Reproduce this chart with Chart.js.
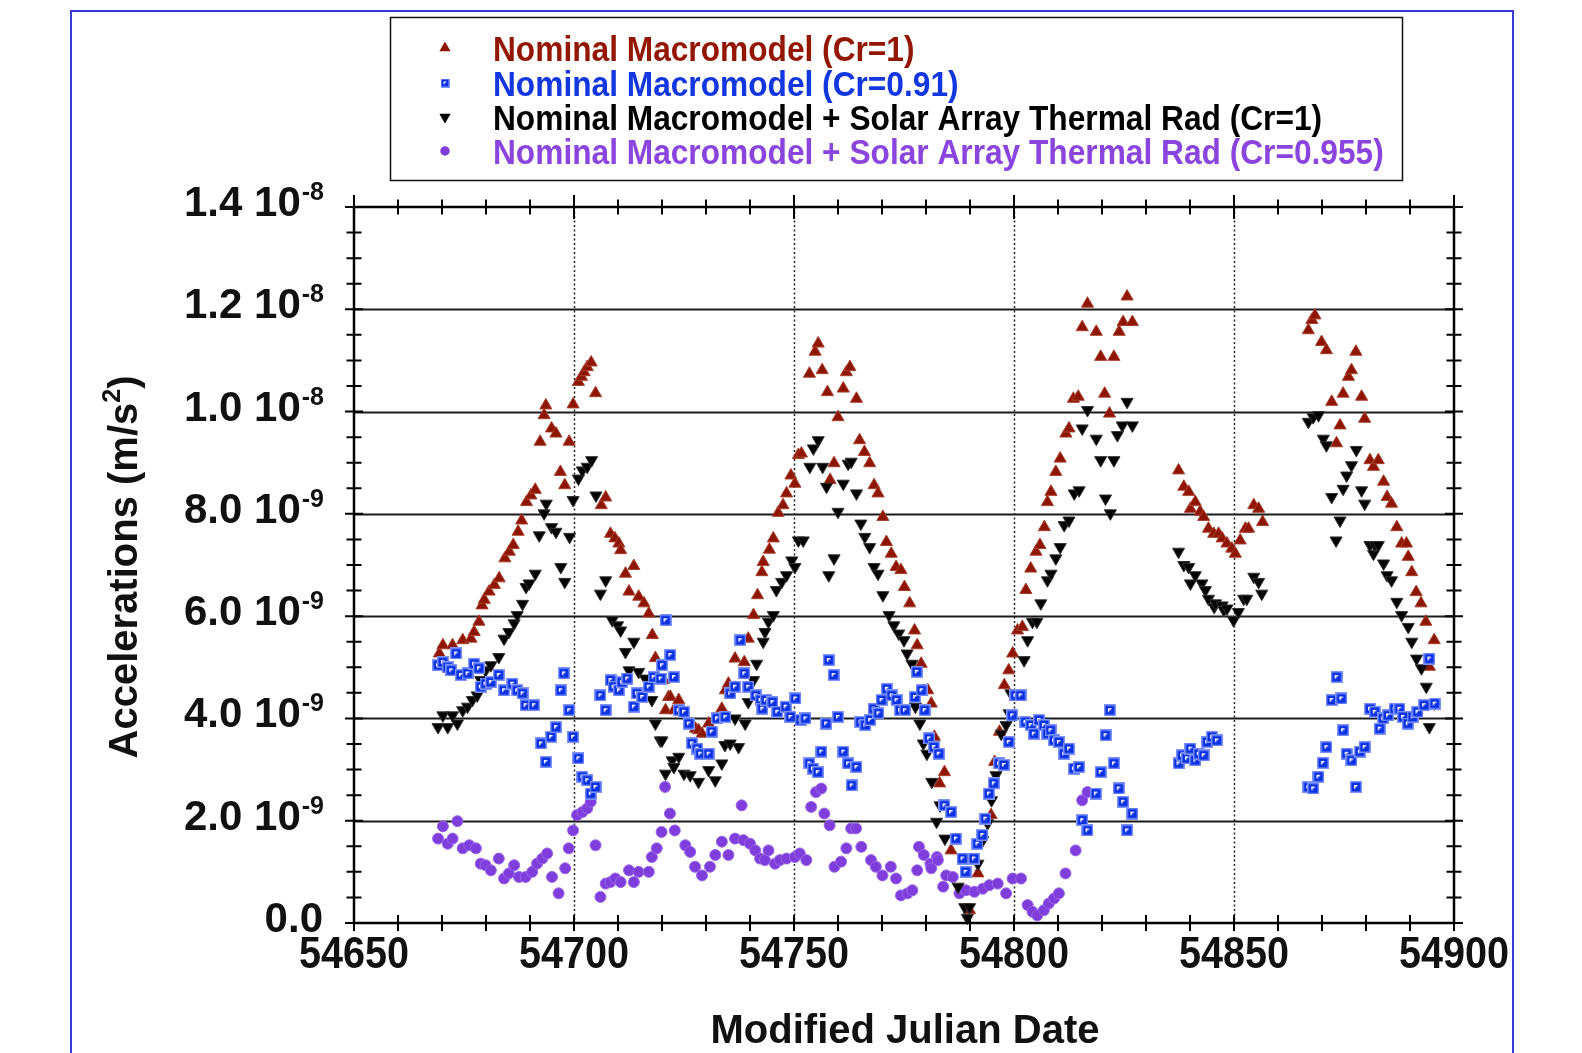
<!DOCTYPE html>
<html>
<head>
<meta charset="utf-8">
<title>Accelerations vs Modified Julian Date</title>
<script src="https://cdn.jsdelivr.net/npm/chart.js@4.4.0/dist/chart.umd.min.js"></script>
<style>
  html, body { margin: 0; padding: 0; background: #fff; }
  canvas { display: block; }
</style>
</head>
<body>
<canvas id="chart" width="1582" height="1053"></canvas>
<script>
// accelerations are in units of 1e-9 m/s^2
const redDays = [54669.4, 54670.2, 54672.4, 54674.7, 54676.6, 54677.3, 54678.4, 54679.1, 54679.6, 54680.7, 54681.9, 54683.0, 54684.3, 54685.3, 54686.2, 54687.3, 54688.1, 54689.2, 54690.2, 54691.2, 54692.3, 54693.2, 54693.6, 54694.9, 54695.9, 54696.9, 54697.9, 54698.9, 54699.8, 54701.0, 54701.7, 54702.3, 54703.0, 54703.9, 54704.9, 54706.2, 54707.2, 54708.3, 54709.3, 54710.2, 54710.6, 54711.7, 54712.5, 54713.6, 54714.7, 54715.9, 54717.0, 54717.8, 54718.5, 54720.4, 54720.8, 54721.5, 54721.9, 54722.7, 54723.8, 54727.6, 54728.3, 54729.1, 54730.6, 54733.6, 54734.4, 54735.1, 54736.6, 54738.7, 54739.6, 54740.8, 54741.7, 54742.7, 54743.0, 54744.4, 54745.3, 54746.4, 54747.5, 54748.3, 54749.3, 54750.2, 54751.0, 54751.7, 54753.5, 54754.8, 54755.5, 54756.4, 54757.6, 54758.2, 54759.1, 54760.0, 54761.2, 54761.9, 54762.7, 54764.2, 54764.9, 54766.0, 54767.2, 54768.2, 54769.1, 54770.2, 54771.0, 54772.1, 54773.2, 54774.3, 54775.1, 54776.3, 54777.4, 54778.0, 54778.9, 54780.4, 54781.2, 54781.9, 54783.1, 54784.2, 54785.7, 54789.9, 54791.8, 54794.8, 54795.6, 54796.7, 54797.8, 54798.8, 54799.7, 54800.8, 54801.9, 54802.7, 54803.8, 54805.0, 54805.9, 54806.9, 54807.6, 54808.4, 54809.5, 54810.5, 54811.8, 54812.5, 54813.5, 54814.6, 54815.5, 54816.7, 54818.7, 54819.7, 54820.6, 54821.7, 54822.7, 54823.9, 54824.8, 54825.7, 54826.9, 54837.4, 54838.6, 54839.7, 54840.1, 54841.2, 54842.3, 54843.1, 54844.2, 54845.4, 54846.5, 54847.3, 54848.4, 54849.5, 54850.3, 54851.4, 54852.6, 54853.3, 54854.5, 54855.6, 54856.5, 54866.9, 54867.7, 54868.4, 54869.9, 54871.0, 54872.2, 54873.3, 54874.1, 54874.8, 54876.0, 54876.7, 54877.7, 54879.0, 54879.7, 54880.9, 54881.7, 54882.8, 54884.0, 54884.8, 54885.8, 54887.0, 54888.1, 54889.2, 54889.6, 54890.4, 54891.4, 54892.5, 54893.6, 54894.4, 54895.5];
const redAcc = [5.27, 5.43, 5.43, 5.53, 5.56, 5.69, 5.89, 6.21, 6.32, 6.48, 6.61, 6.74, 7.13, 7.26, 7.39, 7.65, 7.87, 8.23, 8.36, 8.47, 9.41, 9.93, 10.12, 9.67, 9.57, 8.82, 8.56, 9.41, 10.14, 10.58, 10.68, 10.77, 10.87, 10.96, 10.36, 8.17, 8.32, 7.61, 7.52, 7.42, 7.29, 6.83, 6.48, 6.98, 6.38, 6.25, 6.05, 5.63, 5.18, 4.75, 4.16, 4.42, 4.42, 4.16, 4.36, 3.80, 3.77, 3.70, 3.90, 4.19, 4.55, 4.68, 5.17, 5.10, 5.56, 6.02, 6.41, 6.86, 7.06, 7.30, 7.52, 8.02, 8.17, 8.40, 8.75, 8.59, 9.15, 9.18, 10.74, 11.17, 11.33, 10.81, 10.38, 8.66, 8.99, 9.89, 10.45, 10.77, 10.87, 10.25, 9.44, 9.21, 8.99, 8.56, 8.40, 7.94, 7.45, 7.22, 6.96, 6.90, 6.57, 6.25, 5.72, 5.43, 5.07, 4.55, 4.29, 3.64, 2.73, 2.95, 1.42, 0.25, 0.97, 2.11, 3.15, 3.74, 4.65, 4.94, 5.27, 5.72, 5.79, 6.51, 6.93, 7.26, 7.39, 7.74, 8.23, 8.43, 8.82, 9.08, 9.57, 9.67, 10.25, 10.29, 11.65, 12.11, 11.56, 11.07, 10.35, 9.96, 11.07, 11.56, 11.75, 12.25, 11.75, 8.85, 8.53, 8.43, 8.10, 8.23, 8.04, 7.94, 7.71, 7.61, 7.61, 7.52, 7.42, 7.32, 7.22, 7.48, 7.71, 7.71, 8.17, 8.10, 7.84, 11.59, 11.79, 11.88, 11.36, 11.20, 10.19, 9.38, 9.73, 10.35, 10.68, 10.81, 11.17, 10.29, 9.86, 9.05, 8.92, 9.05, 8.63, 8.33, 8.20, 7.74, 7.42, 7.42, 7.16, 6.86, 6.47, 6.25, 5.89, 5.01, 5.53];

const blueDays = [54669.1, 54670.2, 54671.3, 54672.1, 54673.2, 54674.3, 54675.8, 54677.3, 54678.4, 54678.8, 54679.9, 54681.1, 54682.9, 54684.1, 54686.0, 54687.1, 54688.3, 54689.0, 54690.9, 54692.5, 54693.6, 54694.8, 54695.9, 54697.0, 54697.7, 54698.9, 54699.8, 54701.0, 54701.9, 54703.0, 54703.8, 54704.9, 54706.0, 54707.2, 54708.3, 54709.0, 54710.2, 54710.9, 54712.1, 54713.6, 54714.3, 54715.5, 54717.0, 54718.1, 54719.7, 54720.0, 54720.8, 54721.9, 54722.7, 54723.8, 54725.0, 54726.1, 54726.8, 54728.0, 54728.7, 54730.6, 54731.3, 54732.5, 54734.4, 54735.5, 54736.6, 54737.8, 54738.7, 54739.6, 54741.3, 54742.4, 54742.8, 54743.6, 54745.1, 54746.2, 54748.1, 54749.2, 54750.3, 54751.5, 54752.6, 54753.5, 54754.3, 54755.4, 54756.2, 54757.3, 54757.9, 54759.0, 54760.0, 54761.2, 54762.3, 54763.1, 54764.2, 54765.1, 54766.2, 54767.3, 54768.1, 54769.2, 54769.9, 54771.1, 54772.2, 54773.3, 54774.1, 54775.2, 54777.5, 54777.9, 54779.0, 54779.7, 54780.7, 54781.8, 54782.9, 54784.2, 54785.7, 54786.8, 54788.3, 54789.0, 54790.9, 54791.7, 54792.8, 54793.5, 54794.3, 54795.4, 54796.6, 54797.7, 54798.8, 54799.6, 54800.3, 54801.5, 54802.6, 54803.8, 54804.5, 54805.7, 54806.8, 54807.6, 54808.3, 54809.1, 54810.2, 54811.4, 54812.5, 54813.6, 54814.8, 54815.5, 54816.7, 54818.6, 54819.7, 54820.8, 54821.8, 54822.7, 54823.8, 54824.8, 54825.7, 54826.9, 54837.4, 54838.2, 54839.3, 54840.1, 54841.2, 54842.0, 54843.1, 54843.9, 54845.0, 54846.1, 54866.9, 54868.0, 54869.2, 54870.2, 54871.0, 54872.2, 54873.3, 54874.4, 54874.8, 54875.6, 54876.7, 54877.7, 54878.6, 54879.7, 54880.9, 54882.0, 54883.1, 54883.9, 54885.0, 54886.5, 54887.6, 54888.4, 54889.5, 54890.6, 54891.7, 54893.2, 54894.4, 54895.6];
const blueAcc = [5.04, 5.10, 5.00, 4.94, 5.27, 4.85, 4.88, 5.07, 4.98, 4.62, 4.68, 4.71, 4.85, 4.55, 4.68, 4.55, 4.49, 4.26, 4.26, 3.51, 3.15, 3.64, 3.83, 4.55, 4.88, 4.16, 3.64, 3.22, 2.86, 2.79, 2.53, 2.66, 4.45, 4.16, 4.75, 4.62, 4.55, 4.71, 4.78, 4.23, 4.49, 4.42, 4.62, 4.81, 4.78, 5.04, 5.92, 5.24, 4.81, 4.16, 4.13, 3.90, 3.51, 3.41, 3.31, 3.31, 3.74, 4.00, 4.03, 4.49, 4.62, 5.53, 4.88, 4.62, 4.45, 4.36, 4.19, 4.36, 4.32, 4.13, 4.23, 4.03, 4.39, 3.97, 4.00, 3.12, 3.02, 2.95, 3.35, 3.90, 5.14, 4.85, 4.03, 3.35, 3.12, 2.69, 3.05, 3.93, 3.87, 3.97, 4.19, 4.10, 4.36, 4.58, 4.45, 4.36, 4.16, 4.16, 4.42, 4.91, 4.55, 4.16, 3.61, 3.44, 3.31, 2.30, 2.17, 1.65, 1.26, 1.00, 1.26, 1.55, 1.72, 2.04, 2.53, 2.73, 3.12, 3.09, 3.54, 4.06, 4.45, 4.45, 3.93, 3.87, 3.70, 3.97, 3.87, 3.70, 3.77, 3.57, 3.54, 3.31, 3.41, 3.02, 3.05, 2.01, 1.81, 2.53, 2.95, 3.67, 4.16, 3.12, 2.63, 2.37, 1.81, 2.14, 3.12, 3.28, 3.22, 3.41, 3.18, 3.31, 3.28, 3.54, 3.64, 3.57, 2.66, 2.63, 2.86, 3.13, 3.44, 4.36, 4.81, 4.39, 3.77, 3.31, 3.18, 2.66, 3.35, 3.44, 4.19, 4.13, 3.80, 4.00, 4.06, 4.19, 4.19, 4.03, 3.90, 4.03, 4.13, 4.26, 5.17, 4.29];

const blackDays = [54669.1, 54670.2, 54671.3, 54672.4, 54673.5, 54674.7, 54675.8, 54676.9, 54678.0, 54678.8, 54679.9, 54681.1, 54682.9, 54684.1, 54685.2, 54686.4, 54687.1, 54688.3, 54689.1, 54689.8, 54691.2, 54692.1, 54693.2, 54693.7, 54694.9, 54695.9, 54697.0, 54697.9, 54699.0, 54699.8, 54701.0, 54701.9, 54703.0, 54704.0, 54705.0, 54706.0, 54707.2, 54708.7, 54709.9, 54710.6, 54711.7, 54712.5, 54713.6, 54714.7, 54716.2, 54717.7, 54718.5, 54719.6, 54720.0, 54720.8, 54722.3, 54722.7, 54723.8, 54725.0, 54726.4, 54728.3, 54730.6, 54732.1, 54733.6, 54734.3, 54735.5, 54736.6, 54737.4, 54738.9, 54739.6, 54740.8, 54741.5, 54743.0, 54743.4, 54744.2, 54745.3, 54746.0, 54747.2, 54748.3, 54749.5, 54750.2, 54751.0, 54752.1, 54753.6, 54754.4, 54755.5, 54756.5, 54757.4, 54757.9, 54759.1, 54760.0, 54761.2, 54762.3, 54763.0, 54764.2, 54765.2, 54766.1, 54767.2, 54768.2, 54769.1, 54770.2, 54771.6, 54772.7, 54773.8, 54775.0, 54775.7, 54776.8, 54777.6, 54778.6, 54779.4, 54780.2, 54781.3, 54782.4, 54783.2, 54784.3, 54787.3, 54788.8, 54789.4, 54789.9, 54791.8, 54792.9, 54794.0, 54794.9, 54795.9, 54797.1, 54798.2, 54798.9, 54799.3, 54800.8, 54802.3, 54803.1, 54804.2, 54805.2, 54806.1, 54807.6, 54808.4, 54809.5, 54810.5, 54811.4, 54812.5, 54813.7, 54814.8, 54815.5, 54816.7, 54818.7, 54819.7, 54820.8, 54821.9, 54822.7, 54823.5, 54824.6, 54825.7, 54826.9, 54837.4, 54838.6, 54839.7, 54840.1, 54841.2, 54842.7, 54843.5, 54844.2, 54845.5, 54845.8, 54847.3, 54847.7, 54848.4, 54849.9, 54851.0, 54852.2, 54852.9, 54854.5, 54855.6, 54856.3, 54866.9, 54868.0, 54869.2, 54870.3, 54871.0, 54872.2, 54873.2, 54874.1, 54874.8, 54875.6, 54876.7, 54877.8, 54879.0, 54879.7, 54880.9, 54881.7, 54882.0, 54882.8, 54884.0, 54884.8, 54885.8, 54887.0, 54888.1, 54889.6, 54890.4, 54891.5, 54892.6, 54893.7, 54894.4, 54895.6];
const blackAcc = [3.83, 4.06, 3.83, 4.06, 3.90, 4.16, 4.23, 4.36, 4.45, 4.75, 4.94, 5.04, 5.20, 5.56, 5.69, 5.86, 6.02, 6.24, 6.57, 6.64, 6.83, 7.58, 8.01, 8.20, 7.74, 7.65, 6.96, 6.67, 7.55, 8.27, 8.69, 8.85, 8.92, 9.05, 8.36, 6.44, 6.70, 5.92, 5.82, 5.72, 5.30, 4.94, 5.50, 4.91, 4.78, 4.36, 3.90, 3.57, 3.57, 2.92, 3.18, 3.05, 3.25, 2.92, 2.89, 2.76, 2.99, 2.79, 3.12, 3.48, 3.51, 4.00, 3.44, 3.90, 4.32, 4.75, 5.07, 5.50, 5.69, 5.89, 6.02, 6.51, 6.67, 6.80, 7.09, 6.96, 7.48, 7.48, 8.92, 9.28, 9.44, 8.92, 8.53, 6.80, 7.13, 8.04, 8.59, 8.98, 9.02, 8.40, 7.81, 7.55, 7.35, 6.96, 6.83, 6.41, 6.02, 5.82, 5.66, 5.53, 5.27, 5.07, 4.23, 3.90, 3.51, 3.31, 2.76, 1.98, 2.30, 1.65, 0.71, 0.31, 0.10, 0.31, 1.16, 1.62, 1.95, 2.40, 2.89, 3.70, 3.87, 4.10, 4.49, 4.49, 5.14, 5.53, 5.89, 5.89, 6.25, 6.70, 6.83, 7.13, 7.35, 7.78, 7.87, 8.40, 8.46, 9.67, 10.03, 9.47, 9.05, 8.30, 8.01, 9.05, 9.54, 9.73, 10.19, 9.73, 7.26, 7.00, 6.96, 6.64, 6.80, 6.64, 6.51, 6.34, 6.18, 6.25, 6.21, 6.12, 6.15, 5.92, 6.08, 6.34, 6.34, 6.77, 6.67, 6.44, 9.80, 9.89, 9.93, 9.47, 9.34, 8.33, 7.48, 7.87, 8.49, 8.75, 8.95, 9.25, 8.46, 8.20, 7.39, 7.22, 7.39, 7.39, 7.03, 6.80, 6.70, 6.28, 6.02, 5.79, 5.50, 5.17, 4.98, 4.62, 3.83, 4.29];

const purpleDays = [54669.1, 54670.2, 54671.3, 54672.4, 54673.5, 54674.7, 54676.2, 54677.7, 54678.8, 54679.9, 54681.1, 54682.9, 54684.1, 54685.2, 54686.4, 54687.5, 54689.0, 54690.5, 54691.6, 54692.8, 54693.9, 54695.0, 54696.5, 54698.0, 54698.8, 54699.8, 54700.7, 54701.9, 54703.0, 54703.8, 54704.9, 54706.0, 54707.2, 54708.3, 54709.4, 54710.6, 54712.5, 54713.6, 54714.7, 54717.0, 54717.7, 54718.8, 54719.9, 54720.7, 54721.8, 54722.9, 54725.3, 54726.4, 54727.5, 54729.1, 54730.9, 54732.1, 54733.6, 54735.1, 54736.6, 54738.1, 54738.5, 54740.0, 54741.2, 54742.3, 54743.4, 54744.2, 54745.7, 54746.8, 54748.3, 54750.2, 54751.3, 54752.8, 54753.9, 54755.0, 54756.2, 54756.9, 54758.1, 54759.2, 54760.7, 54761.9, 54763.0, 54764.1, 54765.3, 54767.5, 54768.6, 54770.1, 54772.0, 54773.2, 54774.3, 54775.8, 54776.9, 54778.0, 54778.4, 54779.5, 54781.0, 54781.2, 54782.5, 54782.7, 54783.9, 54784.6, 54786.1, 54787.6, 54789.1, 54791.0, 54792.9, 54794.4, 54796.3, 54798.2, 54799.7, 54801.6, 54803.1, 54804.2, 54805.3, 54806.8, 54807.9, 54809.1, 54810.2, 54811.7, 54814.0, 54815.5, 54816.7];
const purpleAcc = [1.65, 1.89, 1.55, 1.65, 1.99, 1.46, 1.52, 1.46, 1.16, 1.13, 1.03, 1.26, 0.87, 0.97, 1.13, 0.90, 0.90, 1.00, 1.16, 1.26, 1.36, 0.90, 0.58, 1.07, 1.46, 1.81, 2.11, 2.17, 2.24, 2.37, 1.52, 0.51, 0.77, 0.80, 0.87, 0.80, 1.03, 0.80, 1.00, 1.00, 1.29, 1.46, 1.78, 2.66, 2.14, 1.81, 1.52, 1.39, 1.10, 0.93, 1.10, 1.33, 1.59, 1.33, 1.65, 2.30, 1.62, 1.55, 1.42, 1.26, 1.23, 1.42, 1.16, 1.23, 1.26, 1.29, 1.36, 1.23, 2.27, 2.56, 2.63, 2.14, 1.91, 1.10, 1.20, 1.46, 1.85, 1.85, 1.49, 1.23, 1.10, 0.93, 1.10, 0.87, 0.54, 0.58, 0.64, 1.03, 1.49, 1.33, 1.16, 1.07, 1.29, 1.23, 0.71, 0.93, 0.90, 0.58, 0.64, 0.61, 0.67, 0.74, 0.77, 0.58, 0.87, 0.87, 0.35, 0.22, 0.15, 0.25, 0.38, 0.48, 0.58, 0.97, 1.42, 2.40, 2.56];

const xTicks = [54650, 54700, 54750, 54800, 54850, 54900];
const yTicks = [0, 2, 4, 6, 8, 10, 12, 14];
const yTickMant = ['0.0', '2.0', '4.0', '6.0', '8.0', '1.0', '1.2', '1.4'];
const yTickExp = ['', '-9', '-9', '-9', '-9', '-8', '-8', '-8'];
const seriesLabels = [
  'Nominal Macromodel (Cr=1)',
  'Nominal Macromodel (Cr=0.91)',
  'Nominal Macromodel + Solar Array Thermal Rad (Cr=1)',
  'Nominal Macromodel + Solar Array Thermal Rad (Cr=0.955)'
];

const RED = '#8e1500';
const BLUE = '#0b30e2';
const BLACK = '#000000';
const PURPLE = '#7f3ddc';
const textColors = ['#921600', '#1236e0', '#000000', '#8a45df'];

function squareIcon(size) {
  const c = document.createElement('canvas');
  c.width = size; c.height = size;
  const g = c.getContext('2d');
  g.fillStyle = '#7d94ff';
  g.fillRect(0, 0, size, size);
  g.fillStyle = BLUE;
  g.fillRect(1.5, 1.5, size - 3, size - 3);
  g.fillStyle = '#ffffff';
  g.fillRect(4, 4, 3.5, 1.5);
  g.fillRect(4, 4, 1.5, 3.5);
  return c;
}

function pts(xs, ys) {
  return xs.map((d, i) => ({ x: d, y: ys[i] }));
}

const sqIcon = squareIcon(12);

const chrome = {
  id: 'chrome',
  beforeDatasetsDraw(chart) {
    const { ctx, chartArea: a, scales: { x, y } } = chart;
    ctx.save();
    ctx.strokeStyle = '#1a1a1a';
    ctx.lineWidth = 2.2;
    yTicks.forEach(v => {
      if (v === yTicks[0] || v === yTicks[yTicks.length - 1]) return;
      const py = Math.round(y.getPixelForValue(v)) + 0.5;
      ctx.beginPath(); ctx.moveTo(a.left, py); ctx.lineTo(a.right, py); ctx.stroke();
    });
    ctx.strokeStyle = '#222';
    ctx.lineWidth = 1.5;
    ctx.setLineDash([2, 2.5]);
    xTicks.slice(1, -1).forEach(v => {
      const px = Math.round(x.getPixelForValue(v)) + 0.5;
      ctx.beginPath(); ctx.moveTo(px, a.top); ctx.lineTo(px, a.bottom); ctx.stroke();
    });
    ctx.restore();
  },
  afterDraw(chart) {
    const { ctx, chartArea: a, scales: { x, y } } = chart;
    ctx.save();
    // frame
    ctx.strokeStyle = '#000';
    ctx.lineWidth = 2.5;
    ctx.strokeRect(a.left, a.top, a.right - a.left, a.bottom - a.top);

    // ticks
    ctx.lineWidth = 2;
    const xMin = xTicks[0], xMax = xTicks[xTicks.length - 1];
    for (let v = xMin; v <= xMax; v += 10) {
      const major = (v - xMin) % 50 === 0;
      const len = major ? 12 : 7.5;
      const px = x.getPixelForValue(v);
      ctx.beginPath();
      ctx.moveTo(px, a.top - len); ctx.lineTo(px, a.top + len);
      ctx.moveTo(px, a.bottom - 8); ctx.lineTo(px, a.bottom + 8);
      ctx.stroke();
    }
    for (let v = yTicks[0]; v <= yTicks[yTicks.length - 1]; v += 0.5) {
      const major = v % 2 === 0;
      const len = major ? 9 : 7.5;
      const py = y.getPixelForValue(v);
      ctx.beginPath();
      ctx.moveTo(a.left - len, py); ctx.lineTo(a.left + len, py);
      ctx.moveTo(a.right - len, py); ctx.lineTo(a.right + len, py);
      ctx.stroke();
    }

    // y tick labels
    ctx.fillStyle = '#111';
    ctx.textBaseline = 'alphabetic';
    ctx.textAlign = 'left';
    const rightEdge = 323;
    yTicks.forEach((v, i) => {
      const py = y.getPixelForValue(v);
      const main = yTickExp[i] ? yTickMant[i] + ' 10' : yTickMant[i];
      ctx.font = 'bold 42px "Liberation Sans", Arial, sans-serif';
      const wMain = ctx.measureText(main).width;
      ctx.font = 'bold 25px "Liberation Sans", Arial, sans-serif';
      const wExp = yTickExp[i] ? ctx.measureText(yTickExp[i]).width : 0;
      const x0 = rightEdge - wMain - wExp;
      ctx.font = 'bold 42px "Liberation Sans", Arial, sans-serif';
      ctx.fillText(main, x0, py + 9);
      if (yTickExp[i]) {
        ctx.font = 'bold 25px "Liberation Sans", Arial, sans-serif';
        ctx.fillText(yTickExp[i], x0 + wMain + 1, py - 7);
      }
    });

    // x tick labels (narrow letterforms)
    ctx.font = 'bold 45px "Liberation Sans", Arial, sans-serif';
    ctx.textAlign = 'center';
    xTicks.forEach(v => {
      const px = x.getPixelForValue(v);
      ctx.save();
      ctx.translate(px, a.bottom + 45);
      ctx.scale(0.88, 1);
      ctx.fillText(String(v), 0, 0);
      ctx.restore();
    });

    // axis titles
    ctx.font = 'bold 40px "Liberation Sans", Arial, sans-serif';
    ctx.textAlign = 'center';
    ctx.fillText('Modified Julian Date', (a.left + a.right) / 2 + 1, 1043);

    ctx.save();
    ctx.translate(137, 567);
    ctx.rotate(-Math.PI / 2);
    const t1 = 'Accelerations (m/s';
    const t2 = '2';
    const t3 = ')';
    ctx.font = 'bold 40px "Liberation Sans", Arial, sans-serif';
    const w1 = ctx.measureText(t1).width;
    const w3 = ctx.measureText(t3).width;
    ctx.font = 'bold 25px "Liberation Sans", Arial, sans-serif';
    const w2 = ctx.measureText(t2).width;
    let sx = -(w1 + w2 + w3) / 2;
    ctx.textAlign = 'left';
    ctx.font = 'bold 40px "Liberation Sans", Arial, sans-serif';
    ctx.fillText(t1, sx, 0);
    ctx.font = 'bold 25px "Liberation Sans", Arial, sans-serif';
    ctx.fillText(t2, sx + w1, -17);
    ctx.font = 'bold 40px "Liberation Sans", Arial, sans-serif';
    ctx.fillText(t3, sx + w1 + w2, 0);
    ctx.restore();

    // legend box
    ctx.strokeStyle = '#111';
    ctx.lineWidth = 1.5;
    ctx.strokeRect(390.5, 17.5, 1012, 163);
    const rowY = [48, 83, 117, 151];
    const styles = [
      { pointStyle: 'triangle', radius: 5, rotation: 0, fill: RED },
      { pointStyle: sqIcon, radius: 4, rotation: 0, fill: BLUE },
      { pointStyle: 'triangle', radius: 5, rotation: 180, fill: BLACK },
      { pointStyle: 'circle', radius: 4, rotation: 0, fill: PURPLE }
    ];
    seriesLabels.forEach((label, i) => {
      const s = styles[i];
      if (s.pointStyle === sqIcon) {
        ctx.drawImage(sqIcon, 445 - 4.5, rowY[i] - 4.5, 9, 9);
      } else {
        ctx.fillStyle = s.fill;
        ctx.strokeStyle = s.fill;
        Chart.helpers.drawPoint(ctx, { pointStyle: s.pointStyle, radius: s.radius, rotation: s.rotation, borderWidth: 1 }, 445, rowY[i]);
      }
      ctx.save();
      ctx.fillStyle = textColors[i];
      ctx.font = 'bold 35px "Liberation Sans", Arial, sans-serif';
      ctx.textAlign = 'left';
      ctx.translate(493, rowY[i] + 12.5);
      ctx.scale(0.905, 1);
      ctx.fillText(label, 0, 0);
      ctx.restore();
    });

    // page border
    ctx.strokeStyle = '#3a3ad2';
    ctx.lineWidth = 2;
    ctx.beginPath();
    ctx.moveTo(71, 1060); ctx.lineTo(71, 11); ctx.lineTo(1513, 11); ctx.lineTo(1513, 1060);
    ctx.stroke();
    ctx.restore();
  }
};

new Chart(document.getElementById('chart'), {
  type: 'scatter',
  data: {
    datasets: [
      {
        label: seriesLabels[1], data: pts(blueDays, blueAcc), order: 0,
        pointStyle: sqIcon, pointRadius: 6, clip: false
      },
      {
        label: seriesLabels[2], data: pts(blackDays, blackAcc), order: 1,
        pointStyle: 'triangle', pointRotation: 180, pointRadius: 7,
        backgroundColor: BLACK, borderColor: '#333', borderWidth: 1, clip: false
      },
      {
        label: seriesLabels[0], data: pts(redDays, redAcc), order: 2,
        pointStyle: 'triangle', pointRadius: 7,
        backgroundColor: RED, borderColor: '#a84030', borderWidth: 1, clip: false
      },
      {
        label: seriesLabels[3], data: pts(purpleDays, purpleAcc), order: 3,
        pointStyle: 'circle', pointRadius: 5.5,
        backgroundColor: PURPLE, borderColor: '#9a66e6', borderWidth: 1, clip: false
      }
    ]
  },
  options: {
    responsive: false,
    animation: false,
    events: [],
    layout: { padding: { left: 354, right: 128, top: 207, bottom: 130 } },
    plugins: { legend: { display: false }, tooltip: { enabled: false } },
    scales: {
      x: { type: 'linear', min: 54650, max: 54900, display: false },
      y: { type: 'linear', min: 0, max: 14, display: false }
    }
  },
  plugins: [chrome]
});
</script>
</body>
</html>
